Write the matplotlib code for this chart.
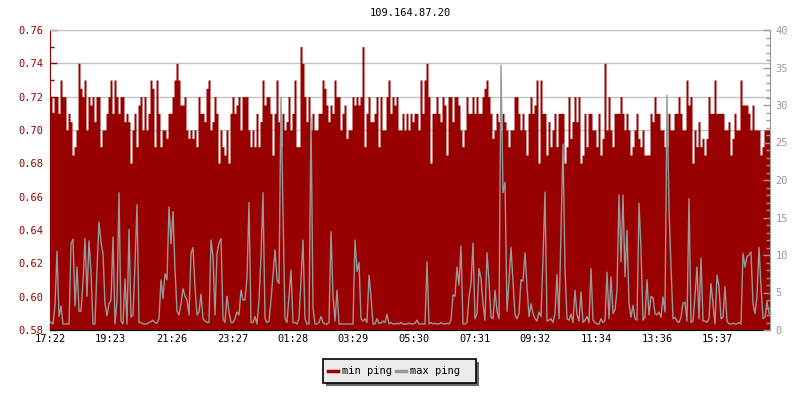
import numpy as np
import matplotlib
matplotlib.use("Agg")
import matplotlib.pyplot as plt
from matplotlib.lines import Line2D
from matplotlib.patches import Rectangle
from matplotlib.ticker import MultipleLocator, FormatStrFormatter

plt.rcParams['font.family'] = ['DejaVu Sans Mono']

title = "109.164.87.20"
tick_labels = ["17:22", "19:23", "21:26", "23:27", "01:28", "03:29",
               "05:30", "07:31", "09:32", "11:34", "13:36", "15:37"]
start_label = "17:22"
minutes_per_sample = 4
series_names = ["min ping", "max ping"]

# min ping (ms), one value per 4-minute sample, in six blocks of 60
min_ping_1 = [0.72, 0.71, 0.72, 0.72, 0.71, 0.73, 0.72, 0.72, 0.70, 0.71,
              0.705, 0.685, 0.69, 0.70, 0.74, 0.725, 0.72, 0.73, 0.70, 0.72,
              0.715, 0.72, 0.705, 0.72, 0.72, 0.69, 0.70, 0.70, 0.71, 0.72,
              0.73, 0.71, 0.73, 0.72, 0.71, 0.72, 0.72, 0.705, 0.71, 0.705,
              0.68, 0.70, 0.71, 0.69, 0.715, 0.72, 0.70, 0.72, 0.70, 0.71,
              0.73, 0.725, 0.69, 0.73, 0.71, 0.69, 0.70, 0.70, 0.695, 0.71]
min_ping_2 = [0.71, 0.72, 0.73, 0.74, 0.73, 0.715, 0.715, 0.72, 0.70, 0.695,
              0.70, 0.695, 0.70, 0.69, 0.72, 0.71, 0.71, 0.705, 0.725, 0.73,
              0.70, 0.705, 0.72, 0.71, 0.68, 0.70, 0.69, 0.685, 0.70, 0.68,
              0.71, 0.72, 0.71, 0.715, 0.72, 0.70, 0.72, 0.72, 0.72, 0.70,
              0.69, 0.70, 0.69, 0.71, 0.69, 0.705, 0.73, 0.715, 0.72, 0.72,
              0.71, 0.685, 0.71, 0.73, 0.705, 0.69, 0.71, 0.70, 0.705, 0.72]
min_ping_3 = [0.70, 0.71, 0.73, 0.69, 0.69, 0.75, 0.74, 0.72, 0.705, 0.72,
              0.70, 0.71, 0.70, 0.70, 0.71, 0.71, 0.73, 0.725, 0.715, 0.705,
              0.715, 0.71, 0.73, 0.72, 0.72, 0.70, 0.71, 0.715, 0.695, 0.70,
              0.70, 0.72, 0.715, 0.72, 0.715, 0.72, 0.75, 0.69, 0.71, 0.72,
              0.705, 0.705, 0.71, 0.72, 0.69, 0.72, 0.70, 0.70, 0.72, 0.73,
              0.71, 0.72, 0.715, 0.72, 0.70, 0.70, 0.71, 0.70, 0.71, 0.70]
min_ping_4 = [0.71, 0.705, 0.71, 0.71, 0.70, 0.73, 0.71, 0.73, 0.74, 0.72,
              0.68, 0.71, 0.71, 0.72, 0.71, 0.705, 0.72, 0.715, 0.685, 0.72,
              0.72, 0.705, 0.72, 0.72, 0.715, 0.70, 0.69, 0.70, 0.72, 0.71,
              0.71, 0.72, 0.71, 0.72, 0.71, 0.71, 0.72, 0.725, 0.73, 0.72,
              0.71, 0.695, 0.70, 0.71, 0.705, 0.70, 0.71, 0.705, 0.70, 0.69,
              0.70, 0.70, 0.72, 0.72, 0.71, 0.70, 0.71, 0.70, 0.685, 0.71]
min_ping_5 = [0.72, 0.71, 0.715, 0.73, 0.68, 0.73, 0.71, 0.71, 0.685, 0.705,
              0.69, 0.70, 0.71, 0.69, 0.71, 0.71, 0.71, 0.68, 0.69, 0.72,
              0.695, 0.705, 0.72, 0.705, 0.72, 0.68, 0.685, 0.71, 0.69, 0.71,
              0.71, 0.70, 0.70, 0.69, 0.71, 0.685, 0.695, 0.74, 0.70, 0.72,
              0.70, 0.69, 0.71, 0.71, 0.71, 0.72, 0.71, 0.70, 0.71, 0.70,
              0.685, 0.69, 0.70, 0.71, 0.695, 0.69, 0.70, 0.685, 0.685, 0.685]
min_ping_6 = [0.71, 0.705, 0.72, 0.71, 0.71, 0.70, 0.70, 0.69, 0.69, 0.71,
              0.70, 0.70, 0.71, 0.71, 0.72, 0.71, 0.70, 0.70, 0.73, 0.715,
              0.72, 0.68, 0.70, 0.69, 0.705, 0.69, 0.695, 0.685, 0.695, 0.72,
              0.71, 0.71, 0.73, 0.71, 0.71, 0.71, 0.71, 0.70, 0.70, 0.705,
              0.685, 0.695, 0.71, 0.70, 0.70, 0.73, 0.715, 0.715, 0.715, 0.71,
              0.70, 0.715, 0.70, 0.70, 0.70, 0.685, 0.69, 0.70, 0.70, 0.70]

# max ping (ms), same samples
max_ping_1 = [1.0, 0.8, 3.3, 10.5, 1.8, 3.2, 0.8, 0.8, 0.8, 0.8,
              11.5, 12.1, 3.2, 8.4, 2.5, 2.5, 6.4, 12.2, 4.5, 11.9,
              7.6, 0.8, 0.8, 8.2, 14.4, 11.7, 10.1, 3.5, 1.9, 3.5,
              4.0, 12.4, 0.8, 3.9, 18.3, 1.2, 0.8, 6.8, 0.8, 13.4,
              1.7, 2.0, 8.7, 16.7, 1.0, 1.0, 0.8, 0.8, 0.8, 1.0,
              1.1, 1.3, 1.0, 0.9, 1.5, 6.7, 4.2, 7.5, 6.7, 16.4]
max_ping_2 = [11.5, 15.8, 8.0, 2.5, 2.0, 3.5, 5.5, 4.5, 4.0, 2.0,
              10.2, 11.0, 5.7, 2.0, 2.4, 4.8, 1.5, 1.2, 1.0, 1.0,
              12.0, 9.8, 2.0, 10.2, 11.6, 12.2, 1.5, 1.0, 4.5, 2.4,
              1.0, 1.0, 1.5, 2.4, 2.0, 5.3, 4.0, 4.0, 7.0, 17.0,
              1.0, 1.0, 1.8, 0.8, 4.0, 9.8, 18.3, 1.5, 1.0, 1.2,
              4.0, 7.3, 10.7, 6.7, 6.2, 31.0, 15.8, 1.5, 1.0, 4.5]
max_ping_3 = [8.0, 1.0, 1.0, 0.8, 1.5, 6.7, 12.0, 1.5, 0.8, 0.8,
              28.4, 3.0, 0.8, 0.8, 1.0, 1.8, 1.0, 0.8, 0.8, 1.0,
              13.1, 4.5, 1.2, 5.3, 0.8, 0.8, 0.8, 0.8, 0.8, 0.8,
              0.8, 0.8, 12.0, 7.8, 9.0, 1.5, 1.2, 1.5, 1.0, 7.3,
              4.5, 0.8, 0.8, 1.5, 0.9, 0.9, 1.2, 1.0, 2.1, 0.8,
              1.0, 0.8, 0.8, 0.9, 0.8, 1.0, 0.8, 0.8, 0.8, 0.9]
max_ping_4 = [0.8, 0.8, 0.9, 1.3, 0.8, 0.8, 0.8, 0.8, 9.1, 0.8,
              1.0, 0.8, 0.9, 0.8, 0.8, 1.0, 0.8, 0.8, 0.9, 0.8,
              1.3, 4.7, 4.5, 8.4, 6.0, 11.2, 0.8, 0.8, 1.0, 4.4,
              6.2, 11.6, 1.5, 2.2, 8.2, 6.8, 3.5, 1.3, 10.3, 6.5,
              1.7, 1.5, 5.3, 2.5, 1.5, 35.3, 18.3, 19.7, 2.5, 6.5,
              11.0, 6.5, 2.0, 1.5, 2.2, 6.7, 6.5, 10.3, 5.8, 1.8]
max_ping_5 = [3.5, 2.2, 1.5, 1.2, 2.4, 1.8, 9.6, 18.4, 1.2, 1.3,
              1.5, 1.0, 2.2, 7.4, 1.5, 13.0, 24.8, 8.2, 1.5, 1.3,
              2.1, 1.0, 5.3, 2.0, 1.2, 5.1, 1.0, 1.3, 1.8, 1.0,
              8.2, 1.3, 1.0, 0.8, 0.8, 1.5, 1.0, 1.3, 7.7, 1.5,
              7.1, 2.2, 2.7, 5.3, 18.0, 9.1, 18.0, 7.1, 13.3, 3.5,
              1.7, 3.3, 1.5, 1.3, 16.9, 10.7, 1.3, 1.7, 6.7, 2.0]
max_ping_6 = [4.5, 4.3, 2.2, 2.0, 2.4, 1.7, 4.4, 2.4, 31.3, 16.2,
              8.4, 1.5, 1.7, 1.2, 1.0, 1.7, 3.6, 3.7, 1.2, 17.5,
              1.0, 1.2, 4.5, 8.4, 1.5, 9.6, 1.2, 1.2, 1.0, 1.5,
              6.2, 3.5, 0.8, 7.3, 5.8, 1.5, 1.7, 5.8, 1.2, 0.8,
              0.8, 0.9, 0.8, 0.8, 1.0, 0.8, 10.2, 8.4, 9.8, 10.0,
              10.4, 3.5, 2.2, 4.5, 11.0, 5.8, 1.5, 1.7, 3.8, 2.2]

min_ping = np.array(min_ping_1 + min_ping_2 + min_ping_3 + min_ping_4 + min_ping_5 + min_ping_6)
max_ping = np.array(max_ping_1 + max_ping_2 + max_ping_3 + max_ping_4 + max_ping_5 + max_ping_6)
n = len(min_ping)
edges = np.arange(n + 1)
centers = np.arange(n) + 0.5

RED = '#990000'
GRAY = '#999999'
GRID = '#c4c4c4'
FS = 7.5

fig = plt.figure(figsize=(8, 4), dpi=100)
ax = fig.add_axes([50/800, 70/400, 720/800, 300/400])
ax.set_xlim(0, n)
ax.set_ylim(0.58, 0.76)
ax.set_axisbelow(True)
ax.grid(axis='y', which='major', color=GRID, lw=1, zorder=0)
ax.fill_between(edges, np.append(min_ping, min_ping[-1]), 0.58, step='post',
                color=RED, lw=0, zorder=1)

ax2 = ax.twinx()
ax2.set_xlim(0, n)
ax2.set_ylim(0, 40)
ax2.plot(np.concatenate([[0], centers, [n]]),
         np.concatenate([[max_ping[0]], max_ping, [max_ping[-1]]]),
         color=GRAY, lw=1)

# x ticks from time labels
def to_min(s):
    h, m = map(int, s.split(':'))
    return h * 60 + m
s0 = to_min(start_label)
pos = [((to_min(t) - s0) % 1440) / minutes_per_sample for t in tick_labels]
ax.set_xticks(pos)
ax.set_xticklabels(tick_labels)
ax.tick_params(axis='x', direction='in', length=5, width=1, color='black',
               labelcolor='black', labelsize=FS, pad=3)

ax.yaxis.set_major_locator(MultipleLocator(0.02))
ax.yaxis.set_minor_locator(MultipleLocator(0.01))
ax.yaxis.set_major_formatter(FormatStrFormatter('%.2f'))
ax.tick_params(axis='y', which='major', direction='in', length=5, width=1,
               color=RED, labelcolor=RED, labelsize=FS, pad=5)
ax.tick_params(axis='y', which='minor', direction='in', length=3, width=1, color=RED)

ax2.yaxis.set_major_locator(MultipleLocator(5))
ax2.yaxis.set_minor_locator(MultipleLocator(1))
ax2.tick_params(axis='y', which='major', direction='in', length=5, width=1,
                color=GRAY, labelcolor=GRAY, labelsize=FS, pad=4)
ax2.tick_params(axis='y', which='minor', direction='in', length=3, width=1, color=GRAY)

for a in (ax, ax2):
    for s in a.spines.values():
        s.set_visible(False)
ax.spines['left'].set_visible(True)
ax.spines['left'].set_color(RED)
ax.spines['bottom'].set_visible(True)
ax.spines['bottom'].set_color('black')
ax.spines['top'].set_visible(True)
ax.spines['top'].set_color(GRID)
ax2.spines['right'].set_visible(True)
ax2.spines['right'].set_color(GRAY)

fig.text(0.5125, 1 - 13/400, title, ha='center', va='center', fontsize=FS, color='black')

# legend box drawn in pixel-based figure coordinates
W, H = 800.0, 400.0
bx0, by0, bw, bh = 323, 359, 153, 24   # top-left in pixels
fig.patches.append(Rectangle(((bx0 + 3) / W, 1 - (by0 + bh + 3) / H), bw / W, bh / H,
                             transform=fig.transFigure, facecolor='#666666',
                             edgecolor='none', zorder=1))
fig.patches.append(Rectangle((bx0 / W, 1 - (by0 + bh) / H), bw / W, bh / H,
                             transform=fig.transFigure, facecolor='#ebebeb',
                             edgecolor='black', lw=1.2, zorder=2))
ly = 1 - (by0 + bh / 2) / H
for color, name, hx in [(RED, series_names[0], 328), (GRAY, series_names[1], 396)]:
    fig.lines.append(Line2D([hx / W, (hx + 10) / W], [ly, ly], transform=fig.transFigure,
                            color=color, lw=2.5, zorder=3))
    fig.text((hx + 14) / W, ly, name, ha='left', va='center', fontsize=FS,
             color='black', zorder=4)

fig.savefig('out.png', dpi=100)
